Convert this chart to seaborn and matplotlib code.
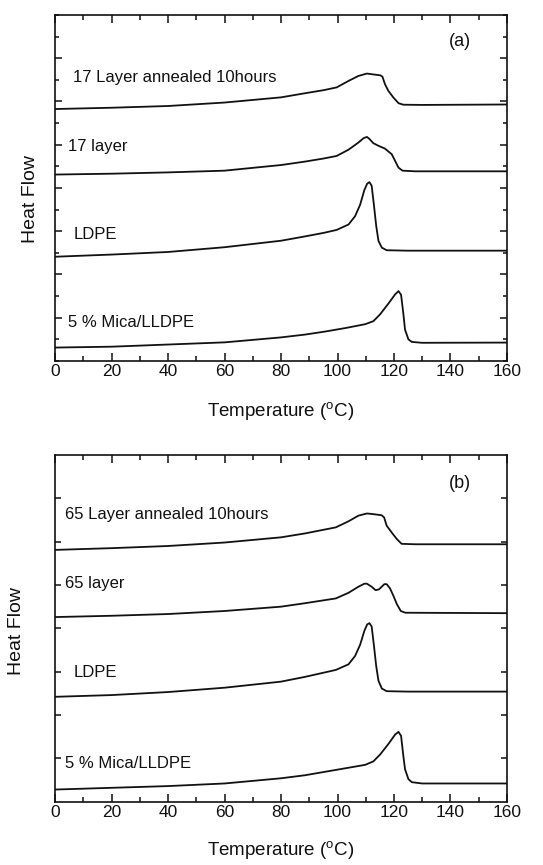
import numpy as np
import pandas as pd
import matplotlib
matplotlib.use("Agg")
import matplotlib.pyplot as plt
from matplotlib.ticker import MultipleLocator
import seaborn as sns

# ---------------- DSC traces, panel (a) ----------------
a1_T = [0, 20, 40, 60, 70, 80, 88.5, 95, 99.7, 103.9, 107.4, 110.4, 112.1, 115.1, 115.9, 116.8, 118.0, 119.8,
        121.6, 123.3, 130, 160]
a1_H = [11.65, 11.71, 11.79, 11.95, 12.07, 12.19, 12.38, 12.52, 12.65, 12.95, 13.18, 13.29, 13.26, 13.21, 13.15,
        12.80, 12.49, 12.18, 11.92, 11.85, 11.84, 11.86]

a2_T = [0, 20, 40, 60, 80, 88.5, 95, 99.7, 103.9, 107.4, 109.2, 110.4, 111.2, 112.7, 114.5, 116.8, 119.2, 120.4,
        121.6, 123.0, 127.5, 160]
a2_H = [8.62, 8.66, 8.72, 8.80, 9.06, 9.22, 9.36, 9.48, 9.77, 10.10, 10.30, 10.36, 10.28, 10.07, 9.95, 9.82,
        9.56, 9.25, 8.94, 8.80, 8.77, 8.77]

a3_T = [0, 20, 40, 60, 80, 88.5, 95, 99.7, 103.9, 106.2, 108.0, 109.5, 110.5, 111.3, 112.1, 112.9, 113.7, 114.5,
        115.7, 117.4, 125, 160]
a3_H = [4.82, 4.92, 5.04, 5.26, 5.56, 5.76, 5.92, 6.06, 6.31, 6.69, 7.22, 7.90, 8.20, 8.27, 8.10, 7.20, 6.25,
        5.55, 5.24, 5.12, 5.10, 5.10]

a4_T = [0, 20, 40, 60, 80, 88.5, 95.6, 102.7, 109.8, 112.7, 115.1, 118.0, 120.4, 121.6, 122.5, 123.3, 123.9,
        125.1, 126.3, 130, 160]
a4_H = [0.62, 0.66, 0.76, 0.86, 1.09, 1.22, 1.36, 1.52, 1.70, 1.84, 2.16, 2.65, 3.08, 3.23, 3.06, 2.20, 1.45,
        1.00, 0.88, 0.84, 0.85]

# ---------------- DSC traces, panel (b) ----------------
b1_T = [0, 20, 40, 60, 80, 88.5, 99.4, 103.9, 107.4, 110.4, 112.1, 115.6, 116.5, 117.4, 119.2, 121.0, 122.7,
        127.5, 160]
b1_H = [5.81, 5.85, 5.90, 5.98, 6.10, 6.19, 6.33, 6.47, 6.60, 6.65, 6.64, 6.61, 6.56, 6.37, 6.21, 6.06, 5.95,
        5.94, 5.94]

b2_T = [0, 20, 40, 60, 80, 88.5, 99.4, 103.9, 107.4, 109.5, 110.4, 112.1, 113.5, 114.7, 116.6, 117.4, 118.6,
        119.8, 121.0, 122.4, 124.0, 160]
b2_H = [4.26, 4.29, 4.33, 4.40, 4.50, 4.58, 4.69, 4.82, 4.96, 5.03, 5.03, 4.96, 4.88, 4.90, 5.02, 5.02, 4.92,
        4.75, 4.56, 4.40, 4.36, 4.35]

b3_T = [0, 20, 40, 60, 80, 88.5, 99.4, 103.9, 106.2, 108.0, 109.5, 110.5, 111.3, 112.1, 112.9, 113.7, 114.5,
        115.7, 117.4, 125, 160]
b3_H = [2.42, 2.46, 2.53, 2.63, 2.77, 2.88, 3.04, 3.17, 3.36, 3.62, 3.94, 4.09, 4.12, 4.04, 3.60, 3.13, 2.79,
        2.61, 2.55, 2.54, 2.54]

b4_T = [0, 20, 40, 60, 80, 88.5, 95.6, 102.7, 109.8, 112.7, 115.1, 118.0, 120.4, 121.6, 122.5, 123.3, 123.9,
        125.1, 126.3, 130, 160]
b4_H = [0.28, 0.32, 0.36, 0.42, 0.54, 0.61, 0.69, 0.77, 0.85, 0.93, 1.09, 1.33, 1.55, 1.61, 1.52, 1.06, 0.75,
        0.52, 0.45, 0.42, 0.42]

labels_a = ["17 Layer annealed 10hours", "17 layer", "LDPE", "5 % Mica/LLDPE"]
labels_b = ["65 Layer annealed 10hours", "65 layer", "LDPE", "5 % Mica/LLDPE"]
x_ticks = [0, 20, 40, 60, 80, 100, 120, 140, 160]

sns.set_style("ticks")
plt.rcParams["font.family"] = ["Liberation Sans", "DejaVu Sans"]
plt.rcParams["mathtext.fontset"] = "custom"
plt.rcParams["mathtext.rm"] = "Liberation Sans"

fig = plt.figure(figsize=(5.43, 8.65), dpi=100)
ax_a = fig.add_axes([0.1013, 0.5827, 0.8324, 0.4000])
ax_b = fig.add_axes([0.1013, 0.0732, 0.8324, 0.4008])

ink = "#111111"
line_kw = dict(color=ink, linewidth=1.3, estimator=None, solid_joinstyle="round")


def draw(ax, curves):
    for T, H in curves:
        df = pd.DataFrame({"Temperature": T, "Heat": H})
        sns.lineplot(data=df, x="Temperature", y="Heat", ax=ax, **line_kw)


draw(ax_a, [(a1_T, a1_H), (a2_T, a2_H), (a3_T, a3_H), (a4_T, a4_H)])
draw(ax_b, [(b1_T, b1_H), (b2_T, b2_H), (b3_T, b3_H), (b4_T, b4_H)])

text_kw = dict(fontsize=12, color=ink, va="center", ha="left")
for (tx, ty), s in zip([(6.4, 13.09), (4.6, 9.91), (6.5, 5.83), (4.5, 1.77)], labels_a):
    ax_a.text(tx, ty, s, **text_kw)
for (tx, ty), s in zip([(3.5, 6.62), (3.5, 5.04), (6.5, 2.98), (3.5, 0.89)], labels_b):
    ax_b.text(tx, ty, s, **text_kw)
ax_a.text(143.4, 14.77, "(a)", fontsize=13, color=ink, ha="center", va="center")
ax_b.text(143.4, 7.34, "(b)", fontsize=13, color=ink, ha="center", va="center")

for ax, ylim in [(ax_a, 16), (ax_b, 8.0)]:
    ax.set_xlim(0, 160)
    ax.set_ylim(0, ylim)
    ax.set_xticks(x_ticks)
    ax.xaxis.set_minor_locator(MultipleLocator(10))
    for sp in ax.spines.values():
        sp.set_linewidth(1.2)
        sp.set_color(ink)
    ax.tick_params(axis="both", which="both", direction="in", top=True, right=True,
                   color=ink, width=1.1)
    ax.tick_params(axis="x", which="major", length=6, labelsize=12.5, pad=2.5, labelcolor=ink)
    ax.tick_params(axis="x", which="minor", length=3.5)
    ax.set_xlabel("Temperature ($^{\\mathregular{o}}$C)", fontsize=13.5, color=ink)
    ax.set_ylabel("Heat Flow", fontsize=14, color=ink)
    ax.xaxis.label.set_va("center")
    ax.yaxis.label.set_va("center")

ax_a.set_yticks(np.arange(2, 15, 2))
ax_a.yaxis.set_minor_locator(MultipleLocator(1))
ax_a.tick_params(axis="y", which="major", length=5)
ax_a.tick_params(axis="y", which="minor", length=3)
ax_a.set_yticklabels([])

ax_b.set_yticks(np.arange(1, 8, 1))
ax_b.tick_params(axis="y", which="major", length=4)
ax_b.set_yticklabels([])

ax_a.xaxis.set_label_coords(0.5, -0.147)
ax_b.xaxis.set_label_coords(0.5, -0.142)
ax_a.yaxis.set_label_coords(-0.054, 0.468)
ax_b.yaxis.set_label_coords(-0.086, 0.492)

fig.savefig("out.png", dpi=100, facecolor="white")
